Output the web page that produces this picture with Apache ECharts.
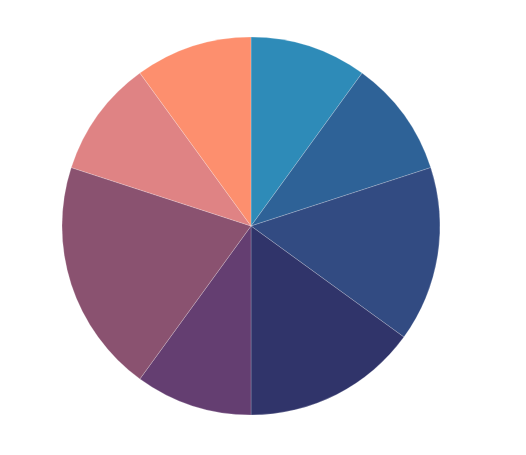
<!DOCTYPE html>
<html><head><meta charset="utf-8">
<script src="https://cdn.jsdelivr.net/npm/echarts@6/dist/echarts.min.js"></script>
<style>html,body{margin:0;padding:0;background:#fff}#c{width:526px;height:455px}</style>
</head><body><div id="c"></div>
<script>
const categories = ['A','B','C','D','E','F','G','H'];
const values = [10,10,15,15,10,20,10,10];
const colors = ['#2e8bb8','#2e6297','#324b82','#30346a','#643e71','#8a5270','#df8384','#fd8f6e'];
const chart = echarts.init(document.getElementById('c'));
chart.setOption({
  animation:false,
  series:[{
    type:'pie',
    center:[251,226],
    radius:[0,189],
    startAngle:90,
    clockwise:true,
    label:{show:false},
    labelLine:{show:false},
    itemStyle:{borderColor:'rgba(255,255,255,0.25)',borderWidth:0.8},
    data: categories.map((c,i)=>({name:c,value:values[i],itemStyle:{color:colors[i]}}))
  }]
});
</script></body></html>
